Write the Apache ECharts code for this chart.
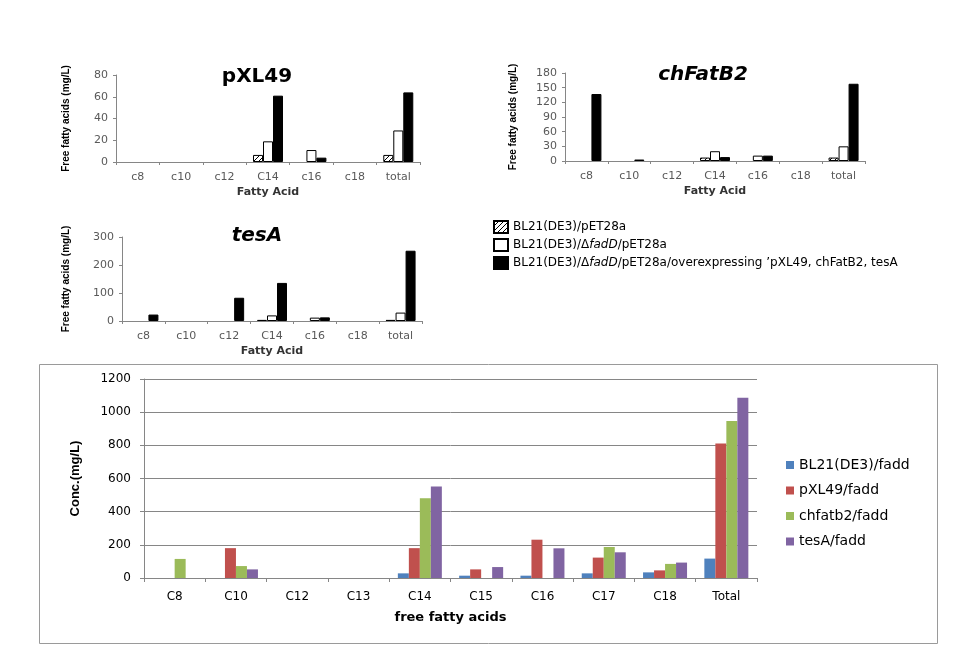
<!DOCTYPE html>
<html>
<head>
<meta charset="utf-8">
<script src="https://cdn.jsdelivr.net/npm/echarts@6/dist/echarts.min.js"></script>
<style>
html,body{margin:0;padding:0;background:#fff;}
#chart{width:966px;height:654px;}
</style>
</head>
<body>
<div id="chart"></div>
<script>
// ---------- data ----------
const catsTop = ['c8','c10','c12','C14','c16','c18','total'];
const topNames = ['BL21(DE3)/pET28a', 'BL21(DE3)/\u0394fadD/pET28a', "BL21(DE3)/\u0394fadD/pET28a/overexpressing \u2019pXL49, chFatB2, tesA"];

const pxlVector = [0, 0, 0, 6.5, 0, 0, 6.5];
const pxlFadD   = [0, 0, 0, 19, 11, 0, 29];
const pxlOver   = [0, 0, 0, 61, 4, 0, 64];

const chfVector = [0, 0, 0, 7, 0, 0, 7];
const chfFadD   = [0, 0, 0, 20, 11, 0, 30];
const chfOver   = [137, 3, 0, 8, 11, 0, 158];

const tesVector = [0, 0, 0, 4, 0, 0, 4];
const tesFadD   = [0, 0, 0, 20, 12, 0, 30];
const tesOver   = [23, 0, 83, 136, 13, 0, 251];

const catsBottom = ['C8','C10','C12','C13','C14','C15','C16','C17','C18','Total'];
const bottomNames = ['BL21(DE3)/fadd', 'pXL49/fadd', 'chfatb2/fadd', 'tesA/fadd'];
const bl21Fadd   = [0, 0, 0, 0, 28, 14, 14, 28, 34, 117];
const pxlFadd    = [0, 180, 0, 0, 180, 52, 231, 123, 46, 811];
const chfatFadd  = [115, 72, 0, 0, 481, 0, 0, 187, 85, 946];
const tesAFadd   = [0, 52, 0, 0, 552, 66, 179, 155, 93, 1087];

// ---------- styles ----------
const FONT = 'DejaVu Sans';
const NARROW = "'Liberation Sans Narrow', 'Liberation Sans', Arial";
const axisGray = '#868686';
const tickText = '#595959';

// zero (not detected) values are not drawn as bars
function marks(arr) { return arr.map(v => (v === 0 ? null : v)); }

function hatch() {
  const c = document.createElement('canvas');
  c.width = 5; c.height = 5;
  const g = c.getContext('2d');
  g.fillStyle = '#fff'; g.fillRect(0, 0, 5, 5);
  g.strokeStyle = '#000'; g.lineWidth = 1;
  g.beginPath();
  g.moveTo(-1, 6); g.lineTo(6, -1);
  g.moveTo(-1, 1); g.lineTo(1, -1);
  g.moveTo(4, 6); g.lineTo(6, 4);
  g.stroke();
  return c;
}
const hatchPattern = { image: hatch(), repeat: 'repeat' };
const topStyles = [
  { color: hatchPattern, borderColor: '#000', borderWidth: 1 },
  { color: '#fff', borderColor: '#000', borderWidth: 1 },
  { color: '#000', borderColor: '#000', borderWidth: 1 }
];
const bottomColors = ['#4F81BD', '#C0504D', '#9BBB59', '#8064A2'];

const grids = [
  { left: 116, top: 75, width: 304, height: 87 },
  { left: 565, top: 73, width: 300, height: 88 },
  { left: 122, top: 237, width: 300, height: 84 },
  { left: 144, top: 379, width: 613, height: 199 }
];

function topX(i) {
  return {
    type: 'category', gridIndex: i, data: catsTop,
    name: 'Fatty Acid', nameLocation: 'middle', nameGap: 25,
    nameTextStyle: { fontFamily: FONT, fontWeight: 'bold', fontSize: 11, color: '#333' },
    axisLine: { lineStyle: { color: axisGray } },
    axisTick: { show: true, alignWithLabel: false, length: 3, lineStyle: { color: axisGray } },
    axisLabel: { fontFamily: FONT, fontSize: 11, color: tickText, margin: 10 }
  };
}
function topY(i, max, interval, gap) {
  return {
    type: 'value', gridIndex: i, min: 0, max: max, interval: interval,
    name: 'Free fatty acids (mg/L)', nameLocation: 'middle', nameGap: gap, nameRotate: 90,
    nameTextStyle: { fontFamily: NARROW, fontWeight: 'bold', fontSize: 10, color: '#000' },
    axisLine: { show: true, lineStyle: { color: axisGray } },
    axisTick: { show: true, length: 3, lineStyle: { color: axisGray } },
    splitLine: { show: false },
    axisLabel: { fontFamily: FONT, fontSize: 11, color: tickText, margin: 8 }
  };
}

const topData = [
  [pxlVector, pxlFadD, pxlOver],
  [chfVector, chfFadD, chfOver],
  [tesVector, tesFadD, tesOver]
];
const series = [];
topData.forEach((group, gi) => {
  group.forEach((arr, si) => {
    series.push({
      type: 'bar', name: topNames[si], xAxisIndex: gi, yAxisIndex: gi,
      data: marks(arr), barWidth: 10, barGap: '0%',
      itemStyle: topStyles[si], emphasis: { disabled: true }, animation: false
    });
  });
});
[bl21Fadd, pxlFadd, chfatFadd, tesAFadd].forEach((arr, si) => {
  series.push({
    type: 'bar', name: bottomNames[si], xAxisIndex: 3, yAxisIndex: 3,
    data: marks(arr), barWidth: 11, barGap: '0%',
    itemStyle: { color: bottomColors[si] }, emphasis: { disabled: true }, animation: false
  });
});

const option = {
  backgroundColor: '#fff',
  animation: false,
  grid: grids,
  xAxis: [
    topX(0), topX(1), topX(2),
    {
      type: 'category', gridIndex: 3, data: catsBottom,
      name: 'free fatty acids', nameLocation: 'middle', nameGap: 33,
      nameTextStyle: { fontFamily: FONT, fontWeight: 'bold', fontSize: 13, color: '#000' },
      axisLine: { lineStyle: { color: axisGray } },
      axisTick: { show: true, length: 4, lineStyle: { color: axisGray } },
      axisLabel: { fontFamily: FONT, fontSize: 12, color: '#000', margin: 13 }
    }
  ],
  yAxis: [
    topY(0, 80, 20, 45), topY(1, 180, 30, 47), topY(2, 300, 100, 51),
    {
      type: 'value', gridIndex: 3, min: 0, max: 1200, interval: 200,
      name: 'Conc.(mg/L)', nameLocation: 'middle', nameGap: 62, nameRotate: 90,
      nameTextStyle: { fontFamily: NARROW, fontWeight: 'bold', fontSize: 13, color: '#000' },
      axisLine: { show: true, lineStyle: { color: axisGray } },
      axisTick: { show: true, length: 4, lineStyle: { color: axisGray } },
      splitLine: { show: true, lineStyle: { color: axisGray, width: 1 } },
      axisLabel: { fontFamily: FONT, fontSize: 12, color: '#000', margin: 13,
        formatter: function (v) { return String(v); } }
    }
  ],
  legend: [
    {
      data: topNames, orient: 'vertical', left: 493, top: 220, padding: 0,
      itemWidth: 14, itemHeight: 12, itemGap: 4, icon: 'rect',
      selectedMode: false,
      formatter: function (n) { return n.replace('fadD', '{i|fadD}'); },
      textStyle: {
        fontFamily: FONT, fontSize: 12, color: '#000',
        rich: { i: { fontFamily: FONT, fontSize: 12, fontStyle: 'italic', color: '#000' } }
      }
    },
    {
      data: bottomNames, orient: 'vertical', left: 786, top: 458, padding: 0,
      itemWidth: 8, itemHeight: 8, itemGap: 11.5, icon: 'rect',
      selectedMode: false,
      textStyle: { fontFamily: FONT, fontSize: 14, color: '#000' }
    }
  ],
  graphic: [
    { type: 'rect', shape: { x: 39.5, y: 364.5, width: 898, height: 279 },
      style: { fill: 'none', stroke: '#9a9a9a', lineWidth: 1 }, silent: true },
    { type: 'text', x: 257, y: 77,
      style: { text: 'pXL49', fontFamily: FONT, fontSize: 20, fontWeight: 'bold', fill: '#000', textAlign: 'center', textVerticalAlign: 'middle' } },
    { type: 'text', x: 703, y: 75,
      style: { text: 'chFatB2', fontFamily: FONT, fontSize: 20, fontWeight: 'bold', fontStyle: 'italic', fill: '#000', textAlign: 'center', textVerticalAlign: 'middle' } },
    { type: 'text', x: 257, y: 236,
      style: { text: 'tesA', fontFamily: FONT, fontSize: 20, fontWeight: 'bold', fontStyle: 'italic', fill: '#000', textAlign: 'center', textVerticalAlign: 'middle' } }
  ],
  series: series
};

const chart = echarts.init(document.getElementById('chart'), null, { renderer: 'canvas' });
chart.setOption(option);
</script>
</body>
</html>
